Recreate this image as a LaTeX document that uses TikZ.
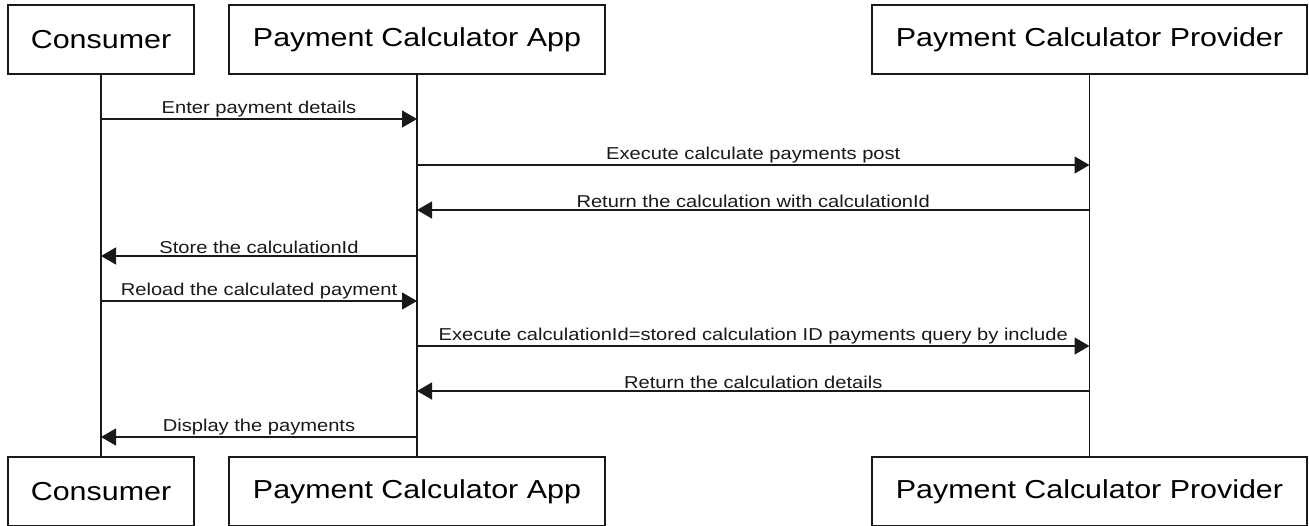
\documentclass[tikz,border=0pt]{standalone}
\usepackage{fontspec}
\setmainfont{Liberation Sans}
\newfontfamily\widesans[FakeStretch=1.17]{Liberation Sans}
\usetikzlibrary{arrows.meta}

\begin{document}
\begin{tikzpicture}[x=1pt,y=-1pt,
    actor/.style={draw=black!90,line width=1.3pt,minimum height=69pt,inner sep=0pt,font=\widesans\fontsize{26}{30}\selectfont},
    life/.style={draw=black!90,line width=1.3pt},
    msg/.style={draw=black!90,line width=1.3pt,-{Triangle[length=15pt,width=17pt]}},
    lbl/.style={above,inner sep=1.5pt,font=\widesans\fontsize{17.2}{19}\selectfont,text=black!90}]
    \useasboundingbox (0,0) rectangle (1309,525);

    % Actors, top row
    \node [actor,minimum width=186pt] (conT) at (101,39.5) {Consumer};
    \node [actor,minimum width=376pt] (appT) at (417,39.5) {Payment Calculator App};
    \node [actor,minimum width=435pt] (proT) at (1089.5,39.5) {Payment Calculator Provider};
    % Actors, bottom row
    \node [actor,minimum width=186pt] (conB) at (101,491.5) {Consumer};
    \node [actor,minimum width=376pt] (appB) at (417,491.5) {Payment Calculator App};
    \node [actor,minimum width=435pt] (proB) at (1089.5,491.5) {Payment Calculator Provider};

    % Lifelines
    \draw [life] (conT) -- (conB);
    \draw [life] (appT) -- (appB);
    \draw [life] (proT) -- (proB);

    % Messages
    \draw [msg] (conT |- 0,119) -- (appT |- 0,119) node [lbl,midway] {Enter payment details};
    \draw [msg] (appT |- 0,165) -- (proT |- 0,165) node [lbl,midway] {Execute calculate payments post};
    \draw [msg] (proT |- 0,210) -- (appT |- 0,210) node [lbl,midway] {Return the calculation with calculationId};
    \draw [msg] (appT |- 0,256) -- (conT |- 0,256) node [lbl,midway] {Store the calculationId};
    \draw [msg] (conT |- 0,301) -- (appT |- 0,301) node [lbl,midway] {Reload the calculated payment};
    \draw [msg] (appT |- 0,346) -- (proT |- 0,346) node [lbl,midway] {Execute calculationId=stored calculation ID payments query by include};
    \draw [msg] (proT |- 0,391) -- (appT |- 0,391) node [lbl,midway] {Return the calculation details};
    \draw [msg] (appT |- 0,437) -- (conT |- 0,437) node [lbl,midway] {Display the payments};

\end{tikzpicture}
\end{document}
